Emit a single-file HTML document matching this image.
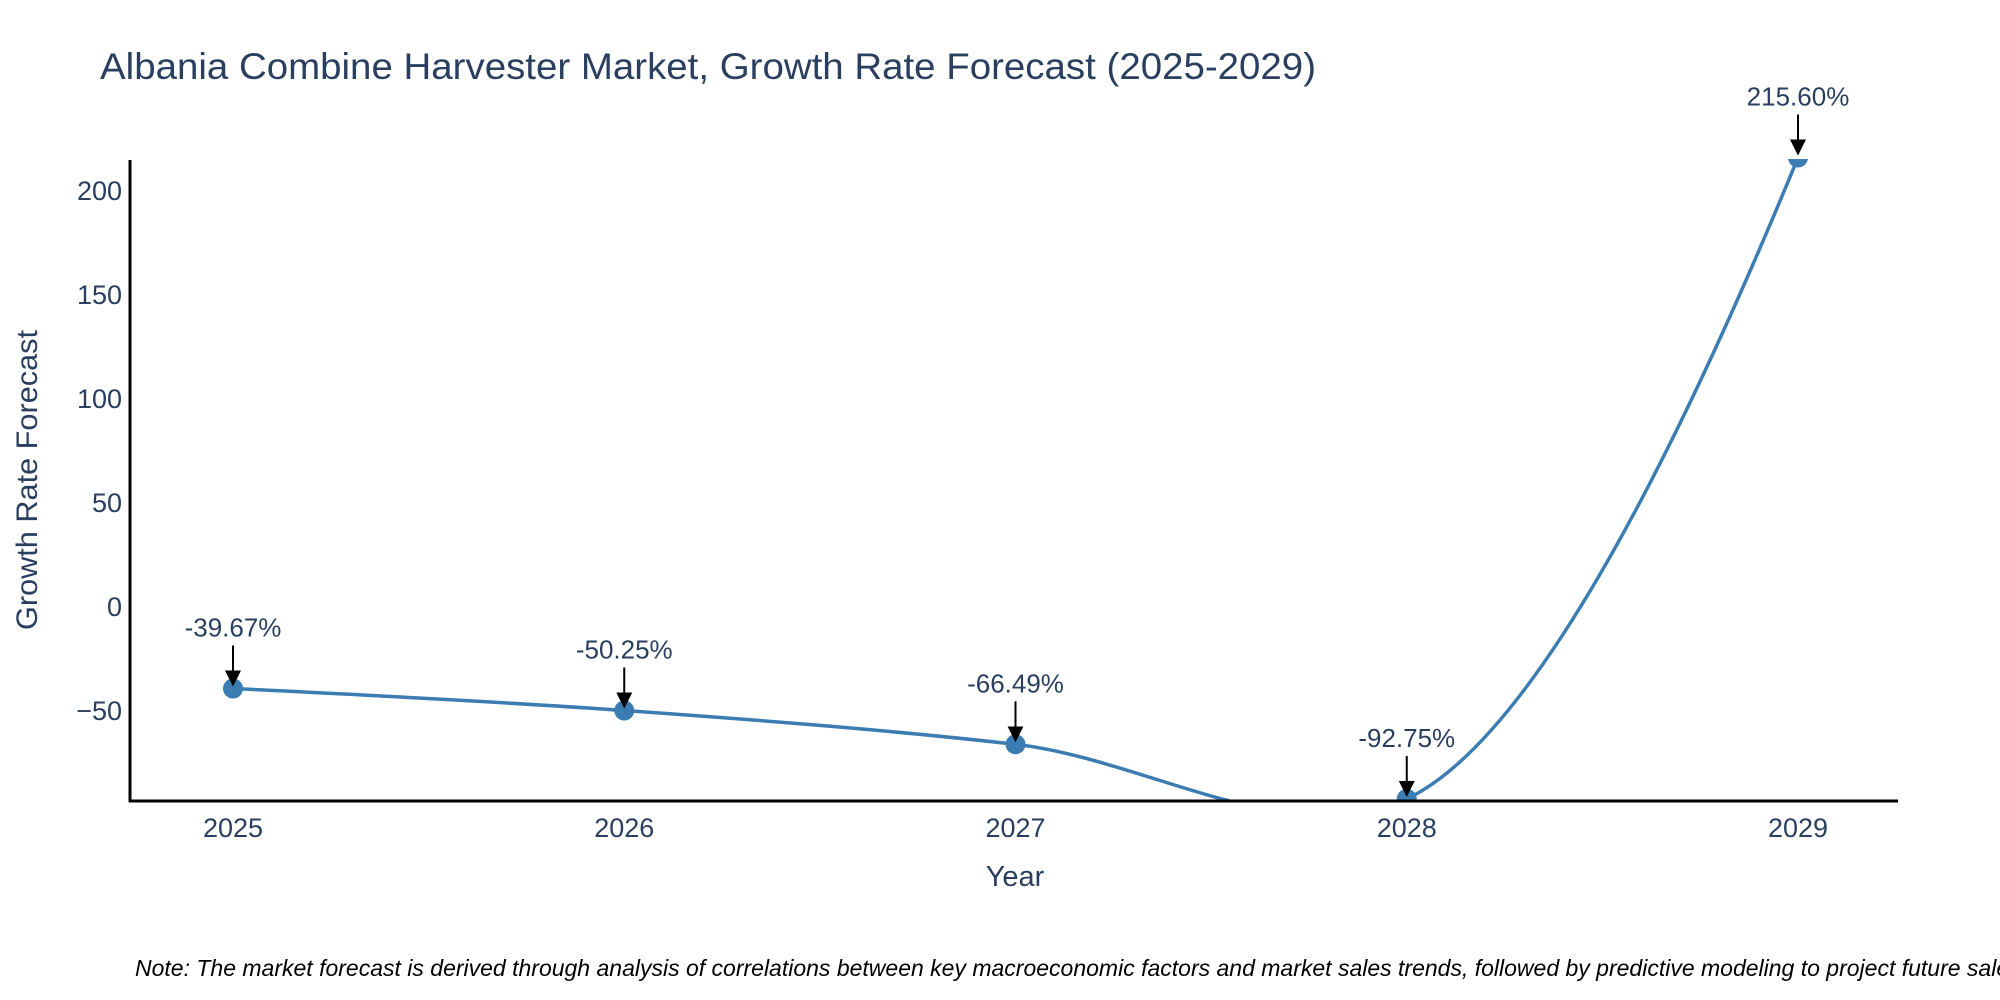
<!DOCTYPE html>
<html><head><meta charset="utf-8"><style>
html,body{margin:0;padding:0;background:#fff;}
svg{display:block;font-family:"Liberation Sans",sans-serif;}
</style></head><body>
<svg id="chart" width="2000" height="1000" viewBox="0 0 2000 1000">
<defs>
<clipPath id="plotclip"><rect x="130" y="159" width="1768" height="642"/></clipPath>
<marker id="ah" markerWidth="8" markerHeight="8" refX="7" refY="4" orient="auto" markerUnits="strokeWidth"><path d="M0,0 L8,4 L0,8 z" fill="#000"/></marker>
</defs>
<text x="100" y="79" font-size="37" fill="#2a3f5f" textLength="1216" lengthAdjust="spacingAndGlyphs">Albania Combine Harvester Market, Growth Rate Forecast (2025-2029)</text>
<g id="yticks"></g>
<g id="xticks"></g>
<g clip-path="url(#plotclip)" id="series"></g>
<line x1="130" y1="160" x2="130" y2="802" stroke="#000" stroke-width="3"/>
<line x1="129" y1="801" x2="1898" y2="801" stroke="#000" stroke-width="3"/>
<g id="annots"></g>
<text x="1015" y="886" font-size="29" fill="#2a3f5f" text-anchor="middle">Year</text>
<text transform="translate(37,480) rotate(-90)" font-size="30" fill="#2a3f5f" text-anchor="middle" textLength="300" lengthAdjust="spacingAndGlyphs">Growth Rate Forecast</text>
<text x="135" y="976" font-size="23" font-style="italic" fill="#000">Note: The market forecast is derived through analysis of correlations between key macroeconomic factors and market sales trends, followed by predictive modeling to project future sales.</text>
</svg>
<script>
const years = ['2025','2026','2027','2028','2029'];
const growth = [-39.67, -50.25, -66.49, -92.75, 215.60];
const labels = ['-39.67%','-50.25%','-66.49%','-92.75%','215.60%'];
const yTickValues = [-50, 0, 50, 100, 150, 200];
const yTickLabels = ['\u221250','0','50','100','150','200'];

const NS='http://www.w3.org/2000/svg';
function X(i){return 233 + i*391.25;}
function Y(v){return 606 - 2.08*v;}
function mk(tag,attrs,parent,text){const e=document.createElementNS(NS,tag);for(const k in attrs)e.setAttribute(k,attrs[k]);if(text!==undefined)e.textContent=text;parent.appendChild(e);return e;}

const yt=document.getElementById('yticks');
yTickValues.forEach((v,i)=>{
  const t=mk('text',{x:122,y:Y(v)+10,'font-size':27,fill:'#2a3f5f','text-anchor':'end'},yt,yTickLabels[i]);
  
  
});
const xt=document.getElementById('xticks');
years.forEach((y,i)=>{
  const t=mk('text',{x:X(i),y:837,'font-size':27,fill:'#2a3f5f','text-anchor':'middle'},xt,y);
  
  
});

const pts=growth.map((v,i)=>[X(i),Y(v)]);
function tangent(p,c,n,s){
  const d1x=p[0]-c[0],d1y=p[1]-c[1],d2x=n[0]-c[0],d2y=n[1]-c[1];
  const d1a=Math.pow(d1x*d1x+d1y*d1y,0.25),d2a=Math.pow(d2x*d2x+d2y*d2y,0.25);
  const nx=(d2a*d2a*d1x-d1a*d1a*d2x)*s,ny=(d2a*d2a*d1y-d1a*d1a*d2y)*s;
  const den1=3*d2a*(d1a+d2a),den2=3*d1a*(d1a+d2a);
  return [[c[0]+nx/den1,c[1]+ny/den1],[c[0]-nx/den2,c[1]-ny/den2]];
}
const tg=[];
for(let i=1;i<pts.length-1;i++)tg.push(tangent(pts[i-1],pts[i],pts[i+1],1));
let d='M'+pts[0]+'Q'+tg[0][0]+' '+pts[1];
for(let i=1;i<pts.length-2;i++)d+='C'+tg[i-1][1]+' '+tg[i][0]+' '+pts[i+1];
d+='Q'+tg[tg.length-1][1]+' '+pts[pts.length-1];
const sg=document.getElementById('series');
const line=mk('path',{d:d,fill:'none',stroke:'#3b7db3','stroke-width':3.5},sg);


pts.forEach(p=>{
  const c=mk('circle',{cx:p[0],cy:p[1],r:10,fill:'#3b7db3'},sg);
  
  
});
const an=document.getElementById('annots');
pts.forEach((p,i)=>{
  const l=mk('line',{x1:p[0],y1:p[1]-43,x2:p[0],y2:p[1]-4,stroke:'#000','stroke-width':2,'marker-end':'url(#ah)'},an);
  
  
  const t=mk('text',{x:p[0],y:p[1]-52,'font-size':26,fill:'#2a3f5f','text-anchor':'middle'},an,labels[i]);
  
  
});
</script>
</body></html>
